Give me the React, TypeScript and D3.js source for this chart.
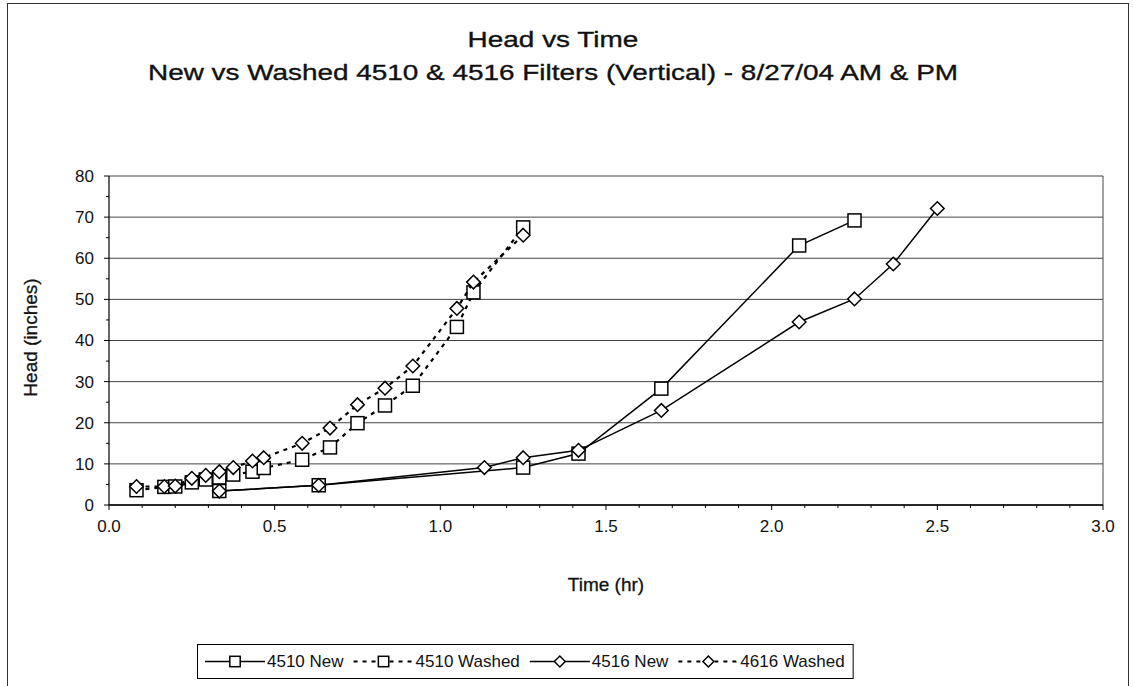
import React from 'react';
import * as d3 from 'd3';

// ---------- data ----------
const washedTimes = [0.083, 0.167, 0.2, 0.25, 0.292, 0.333, 0.375, 0.433, 0.467, 0.583, 0.667, 0.75, 0.833, 0.917, 1.05, 1.1, 1.25];
const washed4510Head = [3.6, 4.4, 4.5, 5.5, 6.2, 6.7, 7.4, 8.1, 9.0, 11.0, 14.0, 19.9, 24.2, 29.0, 43.3, 51.7, 67.5];
const washed4616Head = [4.5, 4.5, 4.6, 6.5, 7.2, 8.1, 9.1, 10.7, 11.5, 15.0, 18.7, 24.4, 28.4, 33.8, 47.8, 54.2, 65.6];
const new4510Times = [0.333, 0.633, 1.25, 1.417, 1.667, 2.083, 2.25];
const new4510Head = [3.4, 4.8, 9.1, 12.5, 28.3, 63.1, 69.2];
const new4516Times = [0.333, 0.633, 1.133, 1.25, 1.417, 1.667, 2.083, 2.25, 2.367, 2.5];
const new4516Head = [3.4, 4.8, 9.1, 11.5, 13.3, 23.0, 44.5, 50.1, 58.6, 72.1];
const xTicks = [0, 0.5, 1.0, 1.5, 2.0, 2.5, 3.0];
const xMinorTicks = d3.range(0, 31).map((i) => i / 10);
const yTicks = [0, 10, 20, 30, 40, 50, 60, 70, 80];
const yMinorTicks = d3.range(0, 17).map((i) => i * 5);
const seriesNames = ['4510 New', '4510 Washed', '4516 New', '4616 Washed'];
const seriesMarkers = ['square', 'square', 'diamond', 'diamond'];
const seriesDashed = [false, true, false, true];
const titleLines = ['Head vs Time', 'New vs Washed 4510 & 4516 Filters (Vertical) - 8/27/04 AM & PM'];
const xAxisTitle = 'Time (hr)';
const yAxisTitle = 'Head (inches)';

const FONT = '"Liberation Sans", Arial, sans-serif';
const W = 1133;
const H = 686;
const plot = { left: 109, right: 1103, top: 176, bottom: 505 };

const x = d3.scaleLinear().domain([0, 3]).range([plot.left, plot.right]);
const y = d3.scaleLinear().domain([0, 80]).range([plot.bottom, plot.top]);

const series = [
  { times: new4510Times, heads: new4510Head },
  { times: washedTimes, heads: washed4510Head },
  { times: new4516Times, heads: new4516Head },
  { times: washedTimes, heads: washed4616Head },
];

const DASH = '4,5';

function Marker({ kind, cx, cy, s = 1 }: { kind: string; cx: number; cy: number; s?: number }) {
  if (kind === 'square') {
    const h = 6.5 * s;
    return <rect x={cx - h} y={cy - h} width={2 * h} height={2 * h} fill="#fff" stroke="#000" strokeWidth={1.5} />;
  }
  const r = 6.8 * s;
  return (
    <path
      d={`M${cx},${cy - r}L${cx + r},${cy}L${cx},${cy + r}L${cx - r},${cy}Z`}
      fill="#fff"
      stroke="#000"
      strokeWidth={1.5}
    />
  );
}

function measure(text: string, font: string): number {
  if (typeof document === 'undefined') return text.length * 8;
  const c = document.createElement('canvas');
  const ctx = c.getContext('2d');
  if (!ctx) return text.length * 8;
  ctx.font = font;
  return ctx.measureText(text).width;
}

export default function App() {
  React.useEffect(() => {
    document.body.style.margin = '0';
  }, []);

  const line = d3
    .line<[number, number]>()
    .x((d) => x(d[0]))
    .y((d) => y(d[1]));

  // title sizing
  const titleFontSize = 22;
  const titleFont = `${titleFontSize}px "Liberation Sans", Arial, sans-serif`;
  const subW = 810;
  const scaleT = subW / measure(titleLines[1], titleFont);
  const titleW = measure(titleLines[0], titleFont) * scaleT;
  const titleCx = 553;

  // legend layout
  const legFontSize = 17;
  const legFont = `${legFontSize}px "Liberation Sans", Arial, sans-serif`;
  const sampleW = 60;
  const legLeft = 197;
  const legTop = 644;
  const legH = 34;
  let cursor = legLeft + 8;
  const legItems = seriesNames.map((name, i) => {
    const tw = measure(name, legFont);
    const item = { x0: cursor, tx: cursor + sampleW + 2, name, i };
    cursor += sampleW + 2 + tw + 10;
    return item;
  });
  const legRight = cursor - 2;

  return (
    <svg width={W} height={H} style={{ display: 'block', background: '#fff' }} fontFamily={FONT}>
      <rect x={0} y={0} width={W} height={H} fill="#fff" />
      {/* outer chart border */}
      <rect x={7.5} y={3.5} width={1121} height={700} fill="none" stroke="#333" strokeWidth={1} />

      {/* titles */}
      <text x={titleCx} y={47} textAnchor="middle" fontSize={titleFontSize} fill="#111"
        stroke="#111" strokeWidth={0.35} textLength={titleW} lengthAdjust="spacingAndGlyphs">
        {titleLines[0]}
      </text>
      <text x={titleCx} y={80} textAnchor="middle" fontSize={titleFontSize} fill="#111"
        stroke="#111" strokeWidth={0.35} textLength={subW} lengthAdjust="spacingAndGlyphs">
        {titleLines[1]}
      </text>

      {/* gridlines */}
      {yTicks.map((t) => (
        <line key={'g' + t} x1={plot.left} x2={plot.right} y1={y(t)} y2={y(t)} stroke="#444" strokeWidth={1} />
      ))}
      {/* plot border right */}
      <line x1={plot.right} x2={plot.right} y1={plot.top} y2={plot.bottom} stroke="#444" strokeWidth={1} />

      {/* y axis */}
      <line x1={plot.left} x2={plot.left} y1={plot.top} y2={plot.bottom} stroke="#000" strokeWidth={1.2} />
      {yMinorTicks.map((t) => (
        <line key={'ym' + t} x1={plot.left - (t % 10 === 0 ? 5 : 3)} x2={plot.left} y1={y(t)} y2={y(t)} stroke="#000" />
      ))}
      {yTicks.map((t) => (
        <text key={'yl' + t} x={plot.left - 15} y={y(t)} dy="0.35em" textAnchor="end" fontSize={17} fill="#111">
          {t}
        </text>
      ))}
      <text
        transform={`translate(${37},${(plot.top + plot.bottom) / 2 - 3}) rotate(-90)`}
        textAnchor="middle"
        fontSize={19}
        fill="#111"
        stroke="#111"
        strokeWidth={0.3}
      >
        {yAxisTitle}
      </text>

      {/* x axis */}
      <line x1={plot.left} x2={plot.right} y1={plot.bottom} y2={plot.bottom} stroke="#000" strokeWidth={1.5} />
      {xMinorTicks.map((t) => (
        <line
          key={'xm' + t}
          x1={x(t)}
          x2={x(t)}
          y1={plot.bottom}
          y2={plot.bottom + (Math.abs((t * 2) % 1) < 1e-6 ? 5 : 3)}
          stroke="#000"
        />
      ))}
      {xTicks.map((t) => (
        <text key={'xl' + t} x={x(t)} y={plot.bottom + 27} textAnchor="middle" fontSize={17} fill="#111">
          {d3.format('.1f')(t)}
        </text>
      ))}
      <text x={(plot.left + plot.right) / 2} y={plot.bottom + 86} textAnchor="middle" fontSize={19}
        fill="#111" stroke="#111" strokeWidth={0.3}>
        {xAxisTitle}
      </text>

      {/* series */}
      {series.map((s, i) => {
        const pts = s.times.map((t, j) => [t, s.heads[j]] as [number, number]);
        return (
          <g key={'s' + i}>
            <path
              d={line(pts) || ''}
              fill="none"
              stroke="#000"
              strokeWidth={seriesDashed[i] ? 2.2 : 1.5}
              strokeDasharray={seriesDashed[i] ? DASH : undefined}
            />
            {pts.map((p, j) => (
              <Marker key={j} kind={seriesMarkers[i]} cx={x(p[0])} cy={y(p[1])} />
            ))}
          </g>
        );
      })}

      {/* legend */}
      <rect x={legLeft + 0.5} y={legTop + 0.5} width={legRight - legLeft} height={legH} fill="#fff" stroke="#000" strokeWidth={1} />
      {legItems.map((it) => {
        const cy = legTop + legH / 2 + 0.5;
        return (
          <g key={'l' + it.i}>
            <line
              x1={it.x0}
              x2={it.x0 + sampleW}
              y1={cy}
              y2={cy}
              stroke="#000"
              strokeWidth={seriesDashed[it.i] ? 2 : 1.5}
              strokeDasharray={seriesDashed[it.i] ? DASH : undefined}
            />
            <Marker kind={seriesMarkers[it.i]} cx={it.x0 + sampleW / 2} cy={cy} s={0.8} />
            <text x={it.tx} y={cy} dy="0.35em" fontSize={legFontSize} fill="#111">
              {it.name}
            </text>
          </g>
        );
      })}
    </svg>
  );
}
